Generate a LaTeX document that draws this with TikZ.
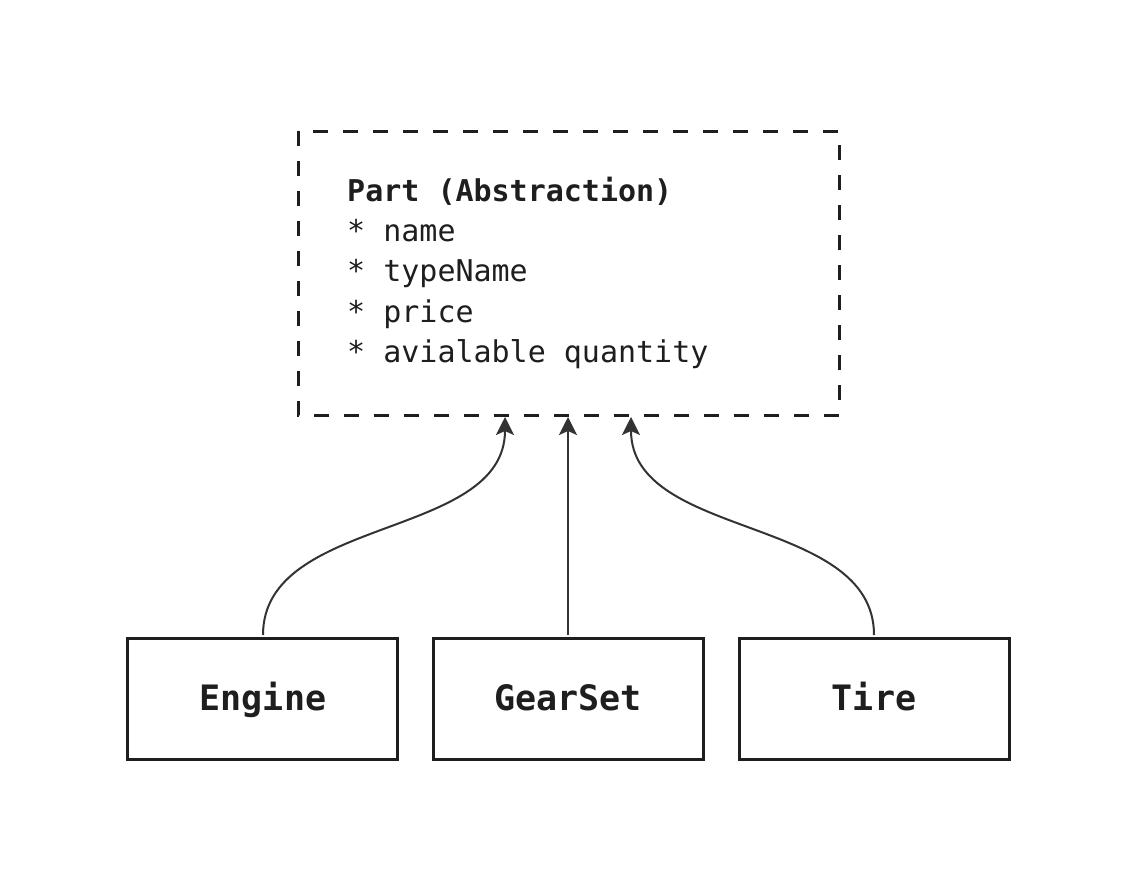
\documentclass[tikz,border=0pt]{standalone}
\usepackage{fontspec}
\setmonofont{DejaVu Sans Mono}
\usetikzlibrary{arrows.meta}
\definecolor{ink}{HTML}{1E1E1E}
\definecolor{edge}{HTML}{333333}
\tikzset{
  partbox/.style={draw=ink, line width=3pt, dash pattern=on 15pt off 15pt},
  subbox/.style={draw=ink, line width=3pt, minimum width=270pt, minimum height=121pt, inner sep=0pt, outer sep=0pt, anchor=north west},
  sublabel/.style={font=\ttfamily\bfseries\fontsize{35}{40}\selectfont, text=ink, anchor=base, inner sep=0pt},
  fieldtxt/.style={font=\ttfamily\fontsize{30}{40}\selectfont, text=ink, anchor=base west, inner sep=0pt},
  inherit/.style={draw=edge, line width=2pt, -{Stealth[length=18pt,width=18pt,inset=4pt]}}
}
\begin{document}
\begin{tikzpicture}[x=1pt,y=-1pt]
\useasboundingbox (0,0) rectangle (1134,881);
\fill[white] (0,0) rectangle (1134,881);
% abstraction box
\draw[partbox] (298,131) rectangle (839,415);
\coordinate (pa) at (505,417);
\coordinate (pb) at (568,417);
\coordinate (pc) at (631,417);
\node[fieldtxt, font=\ttfamily\bfseries\fontsize{30}{40}\selectfont] (t1) at (347,201) {Part (Abstraction)};
\node[fieldtxt] (t2) at (347,241) {* name};
\node[fieldtxt] (t3) at (347,281) {* typeName};
\node[fieldtxt] (t4) at (347,322) {* price};
\node[fieldtxt] (t5) at (347,362) {* avialable quantity};
% sub boxes
\node[subbox] (engine) at (127.5,638.5) {};
\node[subbox] (gear) at (433.5,638.5) {};
\node[subbox] (tire) at (739.5,638.5) {};
\node[sublabel] (le) at (263,710) {Engine};
\node[sublabel] (lg) at (568,710) {GearSet};
\node[sublabel] (lt) at (874,710) {Tire};
% connectors
\coordinate (ea) at (263,635);
\coordinate (ga) at (568,635);
\coordinate (ta) at (874,635);
\draw[inherit] (ea) .. controls (263,515) and (505,540) .. (pa);
\draw[inherit] (ga) -- (pb);
\draw[inherit] (ta) .. controls (874,515) and (631,540) .. (pc);
\end{tikzpicture}
\end{document}
